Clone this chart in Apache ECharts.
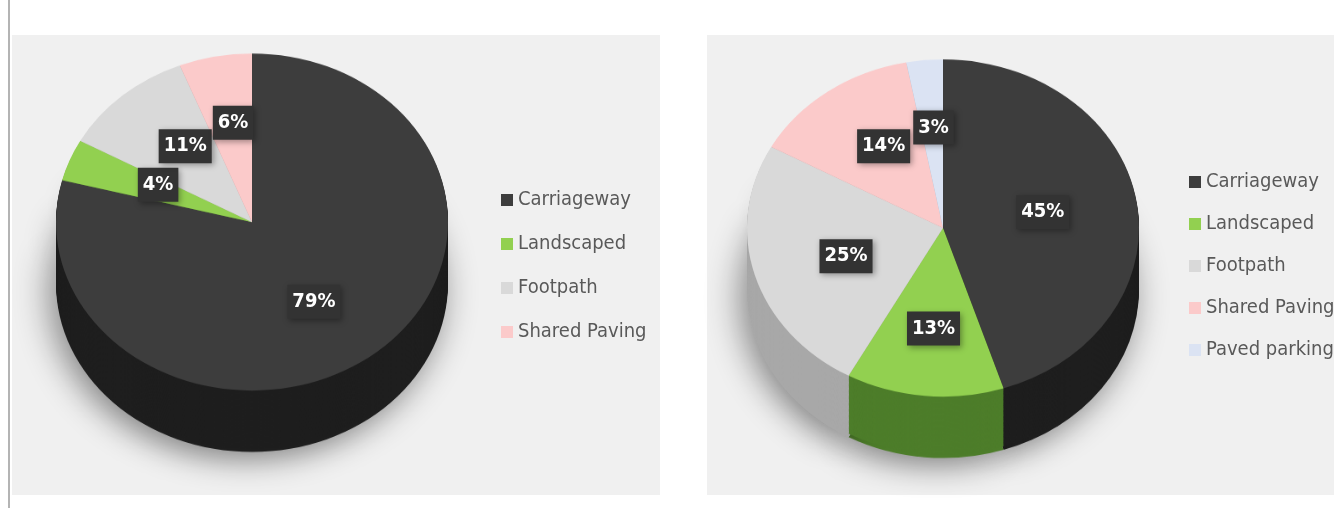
<!DOCTYPE html>
<html lang="en">

<head>
    <meta charset="UTF-8" />
    <title>Paving split</title>
    <script src="https://cdn.jsdelivr.net/npm/echarts@6/dist/echarts.min.js"></script>
    <style>
        body { margin: 0; width: 1334px; height: 508px; overflow: hidden; background: #fff; position: relative; }
        .panel { position: absolute; top: 35px; height: 460px; background: #f0f0f0; }
        #rule { position: absolute; left: 8px; top: 0; width: 2px; height: 508px; background: #b4b4b4; }
        /* the pies are drawn in a squashed layer so they look tilted */
        #pies { position: absolute; left: 0; top: 0; width: 1334px; height: 591px; transform: scaleY(0.86); transform-origin: 0 0; }
        #labels { position: absolute; left: 0; top: 0; width: 1334px; height: 508px; }
    </style>
</head>

<body>
    <div id="rule"></div>
    <div class="panel" style="left: 12px; width: 648px;"></div>
    <div class="panel" style="left: 707px; width: 640px;"></div>
    <div id="pies"></div>
    <div id="labels"></div>

    <script>
        const leftCategories = ['Carriageway', 'Landscaped', 'Footpath', 'Shared Paving'];
        const leftValues = [79, 4, 11, 6];

        const rightCategories = ['Carriageway', 'Landscaped', 'Footpath', 'Shared Paving', 'Paved parking'];
        const rightValues = [45, 13, 25, 14, 3];

        const topColors = {
            'Carriageway': '#3d3d3d',
            'Landscaped': '#92d050',
            'Footpath': '#d9d9d9',
            'Shared Paving': '#fbcaca',
            'Paved parking': '#dbe3f3'
        };
        const sideColors = {
            'Carriageway': '#1e1e1e',
            'Landscaped': '#4d7d2a',
            'Footpath': '#a8a8a8',
            'Shared Paving': '#c9a0a0',
            'Paved parking': '#a9b1c2'
        };

        const TILT = 0.86;   // vertical squash of the pie layer
        const DEPTH = 58;    // thickness of the pie edge in screen px
        const R = 196;
        const FONT = "'DejaVu Sans Condensed', 'Liberation Sans Narrow', sans-serif";

        const panels = [
            { cats: leftCategories, vals: leftValues, cx: 252, cy: 222, legendLeft: 496, legendTop: 184, gap: 22 },
            { cats: rightCategories, vals: rightValues, cx: 943, cy: 228, legendLeft: 1184, legendTop: 166, gap: 20 }
        ];

        function pieData(p, colors) {
            return p.cats.map((name, i) => ({
                name: name,
                value: p.vals[i],
                itemStyle: { color: colors[name] }
            }));
        }

        // tilted pie: shadow, edge layers 1px apart, then the top face
        const pieSeries = [];
        panels.forEach(p => {
            const base = {
                type: 'pie',
                silent: true,
                radius: [0, R],
                label: { show: false },
                labelLine: { show: false },
                animation: false
            };
            pieSeries.push(Object.assign({}, base, {
                center: [p.cx, (p.cy + DEPTH) / TILT + 4],
                data: pieData(p, sideColors),
                itemStyle: { borderWidth: 0, shadowBlur: 34, shadowColor: 'rgba(0,0,0,0.45)', shadowOffsetX: -6, shadowOffsetY: 10 }
            }));
            for (let off = DEPTH; off > 0; off -= 1) {
                pieSeries.push(Object.assign({}, base, {
                    center: [p.cx, (p.cy + off) / TILT],
                    data: pieData(p, sideColors),
                    itemStyle: { borderWidth: 0 }
                }));
            }
            pieSeries.push(Object.assign({}, base, {
                center: [p.cx, p.cy / TILT],
                data: pieData(p, topColors),
                itemStyle: { borderWidth: 0 }
            }));
        });

        const pieChart = echarts.init(document.getElementById('pies'));
        pieChart.setOption({ animation: false, series: pieSeries });

        // labels and legends on an unsquashed layer
        const labelSeries = panels.map(p => ({
            type: 'pie',
            silent: true,
            animation: false,
            center: [p.cx, p.cy],
            radius: [0, R],
            avoidLabelOverlap: false,
            itemStyle: { color: 'rgba(0,0,0,0)', borderWidth: 0 },
            data: p.cats.map((name, i) => ({ name: name, value: p.vals[i] })),
            label: {
                show: true,
                position: 'inside',
                formatter: '{c}%',
                color: '#fff',
                fontFamily: FONT,
                fontWeight: 'bold',
                fontSize: 20,
                backgroundColor: '#333',
                padding: [8, 5, 6, 5],
                shadowBlur: 6,
                shadowColor: 'rgba(0,0,0,0.35)',
                shadowOffsetX: 2,
                shadowOffsetY: 2
            },
            labelLine: { show: false }
        }));

        const legends = panels.map(p => ({
            orient: 'vertical',
            left: p.legendLeft,
            top: p.legendTop,
            icon: 'rect',
            itemWidth: 12,
            itemHeight: 12,
            itemGap: p.gap,
            selectedMode: false,
            textStyle: { color: '#595959', fontFamily: FONT, fontSize: 20, lineHeight: 22 },
            data: p.cats.map(name => ({ name: name, itemStyle: { color: topColors[name], opacity: 1 } }))
        }));

        const labelChart = echarts.init(document.getElementById('labels'));
        labelChart.setOption({ animation: false, legend: legends, series: labelSeries });
    </script>
</body>

</html>
